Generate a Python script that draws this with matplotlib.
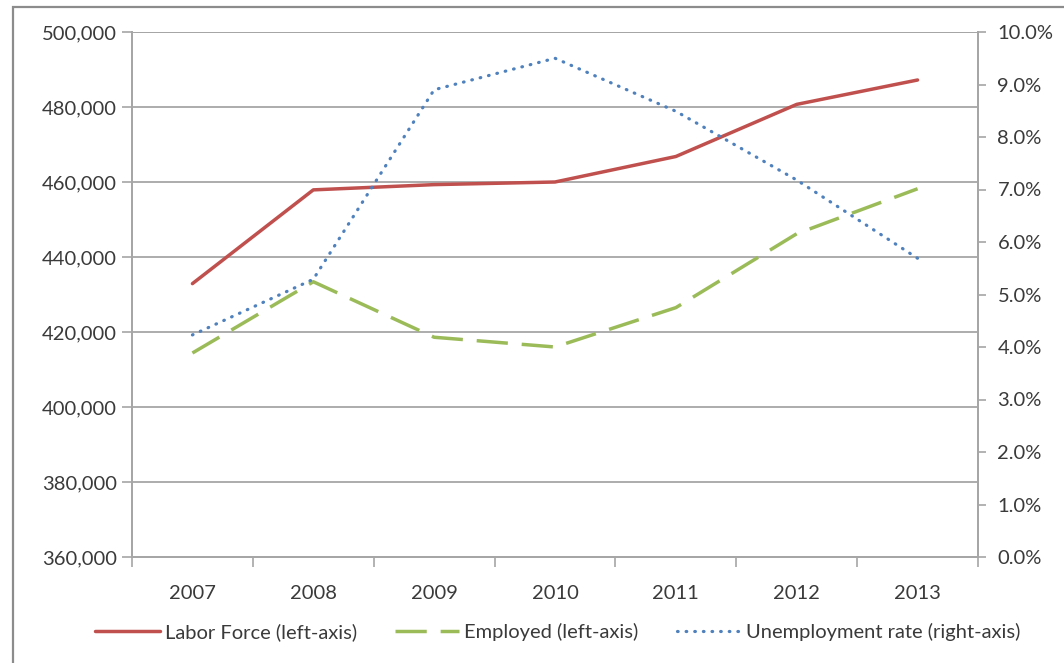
import matplotlib.pyplot as plt
from matplotlib.patches import Rectangle
from matplotlib.ticker import FuncFormatter, MultipleLocator

# Labor market series, 2007-2013
years = ['2007', '2008', '2009', '2010', '2011', '2012', '2013']
labor_force = [432900, 457900, 459300, 460000, 466800, 480700, 487200]
employed = [414400, 433400, 418600, 416000, 426500, 446200, 458200]
unemployment_rate = [4.23, 5.29, 8.9, 9.5, 8.49, 7.18, 5.69]

red = '#C0504D'
green = '#9BBB59'
blue = '#4F81BD'
grid_grey = '#A6A6A6'
text_grey = '#3A3A3A'

plt.rcParams['font.family'] = ['Lato', 'DejaVu Sans']
fs = 14.5

W, H = 1064, 663
fig = plt.figure(figsize=(W / 100, H / 100), dpi=100)

# chart frame (runs off the right and bottom edges)
fig.patches.append(Rectangle((13 / W, -0.05), 1.1, 1 - 7 / H + 0.05, transform=fig.transFigure,
                             fill=False, edgecolor='#8C8C8C', linewidth=1.6))

left, right, top, bottom = 132, 978, 32, 557
ax = fig.add_axes([left / W, 1 - bottom / H, (right - left) / W, (bottom - top) / H])
ax2 = ax.twinx()

x = list(range(len(years)))

l1, = ax.plot(x, labor_force, color=red, linewidth=2.5, solid_capstyle='round',
              label='Labor Force (left-axis)', zorder=3)
l2, = ax.plot(x, employed, color=green, linewidth=2.5, dashes=(9, 4),
              label='Employed (left-axis)', zorder=3)
l3, = ax2.plot(x, unemployment_rate, color=blue, linewidth=2.3, linestyle=(0, (0.2, 2.5)),
               dash_capstyle='round', label='Unemployment rate (right-axis)', zorder=3)

ax.set_xlim(-0.5, len(years) - 0.5)
ax.set_ylim(360000, 500000)
ax2.set_ylim(0, 10)

ax.yaxis.set_major_locator(MultipleLocator(20000))
ax.yaxis.set_major_formatter(FuncFormatter(lambda v, p: f'{int(v):,}'))
ax2.yaxis.set_major_locator(MultipleLocator(1))
ax2.yaxis.set_major_formatter(FuncFormatter(lambda v, p: f'{v:.1f}%'))

ax.set_xticks(x)
ax.set_xticklabels(years)
ax.set_xticks([i - 0.5 for i in range(len(years) + 1)], minor=True)
ax.tick_params(axis='x', which='major', length=0, pad=20, labelsize=fs, labelcolor=text_grey)
ax.tick_params(axis='x', which='minor', length=7, width=1.2, color=grid_grey)

ax.grid(axis='y', color=grid_grey, linewidth=1.3)
ax.set_axisbelow(True)
ax.tick_params(axis='y', length=7, width=1.2, color=grid_grey, pad=4, labelsize=fs, labelcolor=text_grey)
ax2.tick_params(axis='y', length=6, width=1.2, color=grid_grey, pad=8, labelsize=fs, labelcolor=text_grey)

for a in (ax, ax2):
    a.spines['top'].set_visible(False)
    for side in ('left', 'right', 'bottom'):
        a.spines[side].set_color(grid_grey)
        a.spines[side].set_linewidth(1.3)
# top border shows as the 500,000 gridline
ax.axhline(500000, color=grid_grey, linewidth=1.3, zorder=0)

fig.legend(handles=[l1, l2, l3], loc='center', bbox_to_anchor=(558 / W, 1 - 632 / H), ncol=3,
           frameon=False, fontsize=fs, handlelength=3.2, handletextpad=0.25, columnspacing=1.9,
           labelcolor=text_grey)

fig.savefig('out.png', dpi=100, facecolor='white')
